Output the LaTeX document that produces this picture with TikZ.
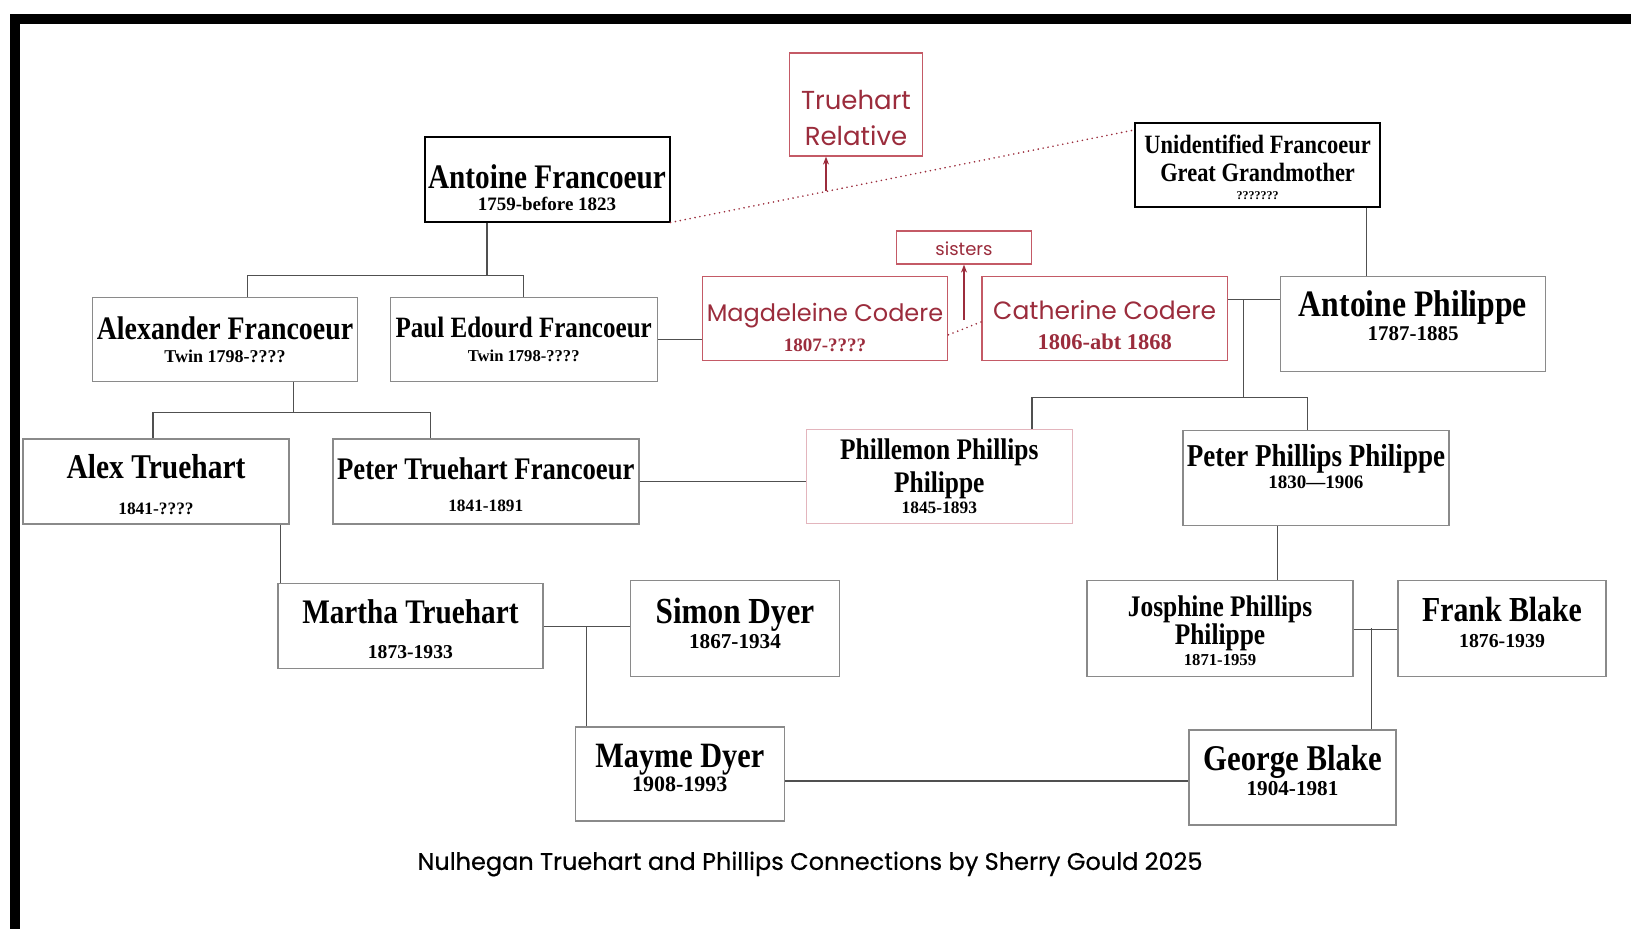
\documentclass[tikz,border=0pt]{standalone}
\usepackage{fontspec}
\usetikzlibrary{arrows.meta}
\newfontfamily\namefont[FakeStretch=0.85]{Liberation Serif}
\newfontfamily\datefont{Liberation Serif}
\newfontfamily\sansred{Poppins}
\newfontfamily\captionfont[FakeBold=0.5]{Poppins}
\newcommand\fs[2]{\fontsize{#1}{#2}\selectfont}
\newcommand\dates[2][18]{{\datefont\bfseries\fs{#1}{#1}#2}}
\definecolor{redtxt}{HTML}{9B2C3C}
\definecolor{redline}{HTML}{C45A66}
\definecolor{pinkline}{HTML}{E3B5BD}
\definecolor{linkgray}{HTML}{505050}
\definecolor{boxgray}{HTML}{8A8A8A}
\tikzset{
  boxsize/.style 2 args={minimum width=#1pt, minimum height=#2pt},
  person/.style={draw=boxgray, line width=1.4pt, align=center, inner sep=0pt},
  nm/.style={font=\namefont\bfseries\fs{#1}{#1}},
  strong/.style={person, draw=black, line width=2pt},
  redbox/.style={draw=redline, line width=1.2pt, align=center, inner sep=0pt, text=redtxt},
  link/.style={draw=linkgray, line width=1.4pt},
  reddot/.style={draw=redtxt, line width=1.8pt, line cap=round, dash pattern=on 0pt off 5pt},
  redarrow/.style={draw=redtxt, line width=1.5pt, -{Stealth[length=8pt,width=6pt]}}
}
\begin{document}
\begin{tikzpicture}[x=1pt,y=-1pt]
 \useasboundingbox (0,0) rectangle (1631,929);
 \fill[black] (10,14) rectangle (1631,24);
 \fill[black] (10,14) rectangle (20,929);

 \node[redbox, boxsize={133}{103}, font=\sansred\fs{26}{26}] (tr) at (856,104.5) {{}\\[20.4pt]Truehart\\[9.4pt]Relative};
 \node[strong, boxsize={245}{85}, nm=34.4] (af) at (547,179) {{}\\[6.9pt]Antoine Francoeur\\[-12.1pt]\dates[19]{1759-before 1823}};
 \node[strong, boxsize={245}{84}, nm=26.4] (ug) at (1257.6,165) {{}\\[-3.2pt]Unidentified Francoeur\\[1.3pt]Great Grandmother\\[-8.8pt]\dates[12]{???????}};
 \node[redbox, boxsize={135}{33}, font=\sansred\fs{18}{18}] (sis) at (964,247.5) {{}\\[-1pt]sisters};

 \node[person, boxsize={265}{84}, nm=32.8] (al) at (225,339.6) {Alexander Francoeur\\[-9.1pt]\dates[18]{Twin 1798-????}};
 \node[person, boxsize={267}{84}, nm=29.5] (pe) at (523.7,339.6) {Paul Edourd Francoeur\\[-5.2pt]\dates[16.6]{Twin 1798-????}};
 \node[redbox, boxsize={245.6}{84}, font=\sansred\fs{24}{24}] (md) at (825,318.8) {{}\\[11pt]Magdeleine Codere\\[6pt]\dates[19]{1807-????}};
 \node[redbox, boxsize={245.4}{84}, font=\sansred\fs{25}{25}] (cc) at (1104.7,318.8) {{}\\[7.5pt]Catherine Codere\\[5pt]\dates[22.5]{1806-abt 1868}};
 \node[person, boxsize={265}{95}, nm=37.3] (ap) at (1413,324) {Antoine Philippe\\[-13.3pt]\dates[21]{1787-1885}\\[-21.1pt]};

 \node[person, boxsize={266}{85}, nm=34.7] (at) at (156,481.6) {{}\\[-5.2pt]Alex Truehart\\[1.1pt]\dates[17.4]{1841-????}};
 \node[person, boxsize={306}{85}, nm=31.4] (ptf) at (485.8,481.6) {{}\\[-3.1pt]Peter Truehart Francoeur\\[0.1pt]\dates[17.3]{1841-1891}};
 \node[person, draw=pinkline, boxsize={266}{94}, nm=29.9] (pp) at (939.3,476.4) {Phillemon Phillips\\[2.8pt]Philippe\\[-8.6pt]\dates[17.4]{1845-1893}};
 \node[person, boxsize={266}{95}, nm=31.8] (ppp) at (1315.9,478) {Peter Phillips Philippe\\[-9.2pt]\dates[19]{1830—1906}\\[-8.4pt]};

 \node[person, boxsize={265}{85}, nm=34.4] (mt) at (410.4,626.2) {{}\\[-4.5pt]Martha Truehart\\[-0.1pt]\dates[19.6]{1873-1933}};
 \node[person, boxsize={209}{96}, nm=36.7] (sd) at (735,628.3) {Simon Dyer\\[-11.4pt]\dates[21.2]{1867-1934}\\[-26.1pt]};
 \node[person, boxsize={266}{96}, nm=29.9] (jp) at (1220,628.3) {{}\\[-5.1pt]Josphine Phillips\\[-1.1pt]Philippe\\[-9.7pt]\dates[16.7]{1871-1959}};
 \node[person, boxsize={208}{96}, nm=35.1] (fb) at (1502,628.3) {Frank Blake\\[-8.8pt]\dates[19.8]{1876-1939}\\[-23.3pt]};

 \node[person, boxsize={209}{94}, nm=35.6] (my) at (679.8,774) {Mayme Dyer\\[-11.3pt]\dates[22]{1908-1993}\\[-22.6pt]};
 \node[person, boxsize={207}{95}, nm=36.2] (gb) at (1292.5,777.5) {George Blake\\[-10.9pt]\dates[21.2]{1904-1981}\\[-21.6pt]};

 \node[font=\captionfont\fs{24}{24}] (cap) at (810,864) {Nulhegan Truehart and Phillips Connections by Sherry Gould 2025};

 \coordinate (kaf) at (486.8,275.7);
 \draw[link] (af.south -| kaf) -- (kaf);
 \draw[link] (al.north -| 247.6,0) |- (kaf) -| (pe.north);
 \draw[link] (pe.east) -- (pe.east -| md.west);
 \draw[reddot] (af.south east) -- ([yshift=-8pt]ug.north west);
 \coordinate (ktr) at (826,191);
 \draw[redarrow] (ktr) -- (ktr |- tr.south);
 \draw[reddot] ([yshift=-16pt]md.east) -- ([yshift=-3pt]cc.west);
 \draw[redarrow] (sis.south |- 0,320) -- (sis.south);

 \coordinate (kap) at (1243.3,299.6);
 \coordinate (kpp) at (1243.3,397.6);
 \draw[link] (cc.east |- kap) -- (ap.west |- kap);
 \draw[link] (kap) -- (kpp);
 \draw[link] (pp.north -| 1032,0) |- (kpp) -- (1307.6,397.6) -- (ppp.north -| 1307.6,0);
 \draw[link] (ug.south -| 1366.7,0) -- (ap.north -| 1366.7,0);

 \coordinate (kal) at (293.4,412.3);
 \draw[link] (al.south -| kal) -- (kal);
 \draw[link] (at.north -| 153,0) |- (kal) -| (ptf.north -| 430.6,0);
 \draw[link] (ptf.east) -- (ptf.east -| pp.west);
 \draw[link] (at.south -| 280.5,0) -- (mt.north -| 280.5,0);
 \draw[link] (mt.east) -- (mt.east -| sd.west);
 \draw[link] (mt.east -| 586.7,0) -- (my.north -| 586.7,0);
 \draw[link] (my.east |- 0,781) -- (gb.west |- 0,781);
 \draw[link] (ppp.south -| 1277.4,0) -- (jp.north -| 1277.4,0);
 \draw[link] (jp.east |- 0,629.5) -- (fb.west |- 0,629.5);
 \draw[link] (jp.east -| 1371.7,0) -- (gb.north -| 1371.7,0);
\end{tikzpicture}
\end{document}
